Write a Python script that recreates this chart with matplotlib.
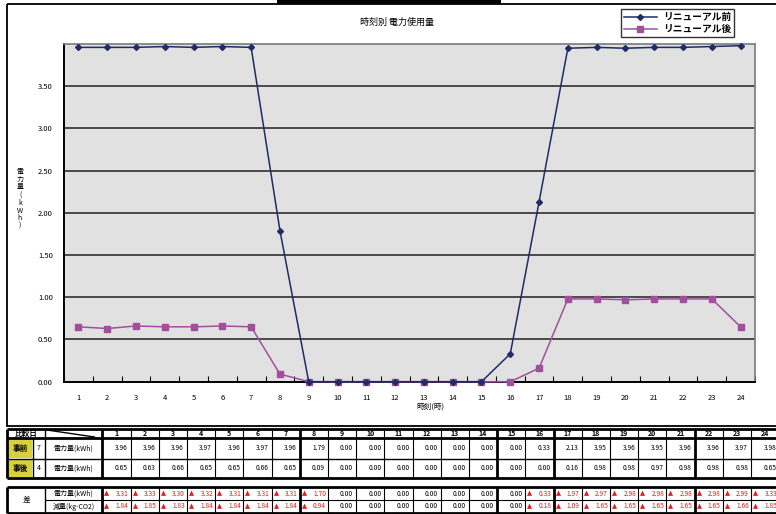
"""
Hourly electricity use before / after the renewal, with the
comparison table drawn underneath the chart.
"""

import matplotlib
matplotlib.use("Agg")

import matplotlib.pyplot as plt
import numpy as np
from matplotlib.patches import Rectangle

plt.rcParams["font.family"] = ["Noto Sans CJK JP", "DejaVu Sans"]

# --- data -----------------------------------------------------------------
hours = list(range(1, 25))
before_kwh = [3.96, 3.96, 3.96, 3.97, 3.96, 3.97, 3.96, 1.79,
              0.00, 0.00, 0.00, 0.00, 0.00, 0.00, 0.00, 0.33,
              2.13, 3.95, 3.96, 3.95, 3.96, 3.96, 3.97, 3.98]
after_kwh = [0.65, 0.63, 0.66, 0.65, 0.65, 0.66, 0.65, 0.09,
             0.00, 0.00, 0.00, 0.00, 0.00, 0.00, 0.00, 0.00,
             0.16, 0.98, 0.98, 0.97, 0.98, 0.98, 0.98, 0.65]
diff_kwh = [3.31, 3.33, 3.30, 3.32, 3.31, 3.31, 3.31, 1.70,
            0.00, 0.00, 0.00, 0.00, 0.00, 0.00, 0.00, 0.33,
            1.97, 2.97, 2.98, 2.98, 2.98, 2.98, 2.99, 3.33]
diff_co2 = [1.84, 1.85, 1.83, 1.84, 1.84, 1.84, 1.84, 0.94,
            0.00, 0.00, 0.00, 0.00, 0.00, 0.00, 0.00, 0.18,
            1.09, 1.65, 1.65, 1.65, 1.65, 1.65, 1.66, 1.85]

series_names = ["リニューアル前", "リニューアル後"]
title = "時刻別 電力使用量"
x_label = "時刻(時)"
y_label = "電力量(kWh)"
y_ticks = [0.0, 0.5, 1.0, 1.5, 2.0, 2.5, 3.0, 3.5]

table_head = "比較日"
row_tags = ["事前", "事後"]
row_days = ["7", "4"]
row_item = "電力量(kWh)"
diff_tag = "差"
diff_items = ["電力量(kWh)", "減量(kg-CO2)"]

BLUE = "#1F2C66"
PINK = "#A24F9C"
RED = "#E01E1E"
YELLOW = "#D8D13E"

W, H = 776, 514
fig = plt.figure(figsize=(W / 100, H / 100), dpi=100)

# pixel-space canvas for frame, titles and table
bg = fig.add_axes([0, 0, 1, 1])
bg.set_xlim(0, W)
bg.set_ylim(H, 0)
bg.axis("off")
bg.add_patch(Rectangle((6.5, 3.5), W, 422, fill=False, lw=1.3, ec="black"))
bg.add_patch(Rectangle((277, 0), 224, 3.5, color="black", lw=0))

# --- chart ----------------------------------------------------------------
top, bottom, left, right = 44, 381.7, 64, 755
ax = fig.add_axes([left / W, (H - bottom) / H, (right - left) / W,
                   (bottom - top) / H])
ax.set_facecolor("#E1E1E1")
ax.plot(hours, before_kwh, color=BLUE, marker="D", ms=3.0, lw=1.1,
        label=series_names[0], clip_on=False, zorder=4)
ax.plot(hours, after_kwh, color=PINK, marker="s", ms=5, lw=1.1,
        label=series_names[1], clip_on=False, zorder=3)
ax.set_xlim(0.5, 24.5)
ax.set_ylim(0, 4)
ax.set_yticks(y_ticks)
ax.set_yticklabels([f"{v:.2f}" for v in y_ticks], fontsize=5.5)
ax.yaxis.grid(True, color="#202020", lw=1.1)
ax.set_axisbelow(True)
ax.set_xticks(hours)
ax.set_xticklabels([str(h) for h in hours], fontsize=5.5)
ax.set_xticks(np.arange(0.5, 25, 1), minor=True)
ax.tick_params(axis="both", which="major", length=0, pad=9)
ax.tick_params(axis="y", pad=8)
ax.tick_params(axis="x", which="minor", direction="in", length=4,
               color="black", width=0.8)
for side in ("left", "bottom"):
    ax.spines[side].set_color("black")
    ax.spines[side].set_linewidth(1.4)
for side in ("top", "right"):
    ax.spines[side].set_color("#7A7A7A")
    ax.spines[side].set_linewidth(1.2)

ax.legend(loc="upper left", bbox_to_anchor=(621 / W, 1 - 9 / H),
          bbox_transform=fig.transFigure, frameon=True, fancybox=False,
          edgecolor="black", prop={"weight": "bold", "size": 7},
          handlelength=3.4, borderpad=0.3, labelspacing=0.25,
          handletextpad=0.6, borderaxespad=0)
ax.get_legend().get_frame().set_linewidth(1.0)

bg.text(397, 22, title, fontsize=6.5, ha="center", va="center")
bg.text(430, 407, x_label, fontsize=5.5, ha="center", va="center")
bg.text(20, 199, "\n".join(y_label), fontsize=5, ha="center", va="center",
        linespacing=0.95)

# --- table ----------------------------------------------------------------
col_w = 28.2
cols = [102.4 + col_w * k for k in range(25)]
x0, x_tag, x_day = 7, 33, 45


def hline(y, xa, xb, lw=1.0):
    bg.plot([xa, xb], [y, y], color="black", lw=lw, solid_capstyle="butt")


def vline(x, ya, yb, lw=1.0):
    bg.plot([x, x], [ya, yb], color="black", lw=lw, solid_capstyle="butt")


def fmt(v):
    return f"{v:.2f}"


# table 1: header + before / after rows
t1 = [429, 438, 459, 478]
hline(t1[0], x0, W, 2.0)
hline(t1[1], x0, W, 2.0)
hline(t1[2], x0, W, 1.0)
hline(t1[3], x0, W, 2.0)
vline(x0, t1[0], t1[3], 2.0)
vline(x_day, t1[0], t1[3], 1.0)
vline(x_tag, t1[1], t1[3], 1.0)
bg.plot([x_day + 2, cols[0] - 8], [t1[0] + 1, t1[1] - 1], color="black",
        lw=1.0)
for k, cx in enumerate(cols):
    lw = 2.0 if k in (0, 7, 14, 16, 21) else 0.8
    vline(cx, t1[0], t1[3], lw)
bg.text((x0 + x_day) / 2, (t1[0] + t1[1]) / 2, table_head, fontsize=5.5,
        weight="bold", ha="center", va="center")
for k, h in enumerate(hours):
    bg.text(cols[k] + col_w / 2, (t1[0] + t1[1]) / 2, str(h), fontsize=5,
            weight="bold", ha="center", va="center")

for r, vals in enumerate([before_kwh, after_kwh]):
    ya, yb = t1[r + 1], t1[r + 2]
    bg.add_patch(Rectangle((x0 + 1, ya + 1), x_tag - x0 - 2, yb - ya - 2,
                           color=YELLOW, lw=0))
    bg.text((x0 + x_tag) / 2, (ya + yb) / 2, row_tags[r], fontsize=5.5,
            weight="bold", ha="center", va="center")
    bg.text((x_tag + x_day) / 2, (ya + yb) / 2, row_days[r], fontsize=5,
            ha="center", va="center")
    bg.text((x_day + cols[0]) / 2, (ya + yb) / 2, row_item, fontsize=5,
            ha="center", va="center")
    for k, v in enumerate(vals):
        bg.text(cols[k] + col_w - 3, (ya + yb) / 2, fmt(v), fontsize=4.8,
                ha="right", va="center")

# table 2: differences
t2 = [487, 500, 513]
hline(t2[0], x0, W, 2.0)
hline(t2[1], x_day, W, 0.8)
hline(t2[2], x0, W, 2.0)
vline(x0, t2[0], t2[2], 2.0)
vline(x_day, t2[0], t2[2], 1.0)
for k, cx in enumerate(cols):
    lw = 2.0 if k in (0, 7, 14, 16, 21) else 0.8
    vline(cx, t2[0], t2[2], lw)
bg.text((x0 + x_day) / 2, (t2[0] + t2[2]) / 2, diff_tag, fontsize=5.5,
        ha="center", va="center")
for r, vals in enumerate([diff_kwh, diff_co2]):
    ya, yb = t2[r], t2[r + 1]
    bg.text((x_day + cols[0]) / 2, (ya + yb) / 2, diff_items[r], fontsize=5,
            ha="center", va="center")
    for k, v in enumerate(vals):
        if v > 0:
            bg.text(cols[k] + 2, (ya + yb) / 2, "▲", fontsize=4.8, color=RED,
                    ha="left", va="center", family="DejaVu Sans")
            bg.text(cols[k] + col_w - 2, (ya + yb) / 2, fmt(v), fontsize=4.8,
                    color=RED, ha="right", va="center")
        else:
            bg.text(cols[k] + col_w - 3, (ya + yb) / 2, fmt(v), fontsize=4.8,
                    ha="right", va="center")

fig.savefig("out.png", dpi=100)
